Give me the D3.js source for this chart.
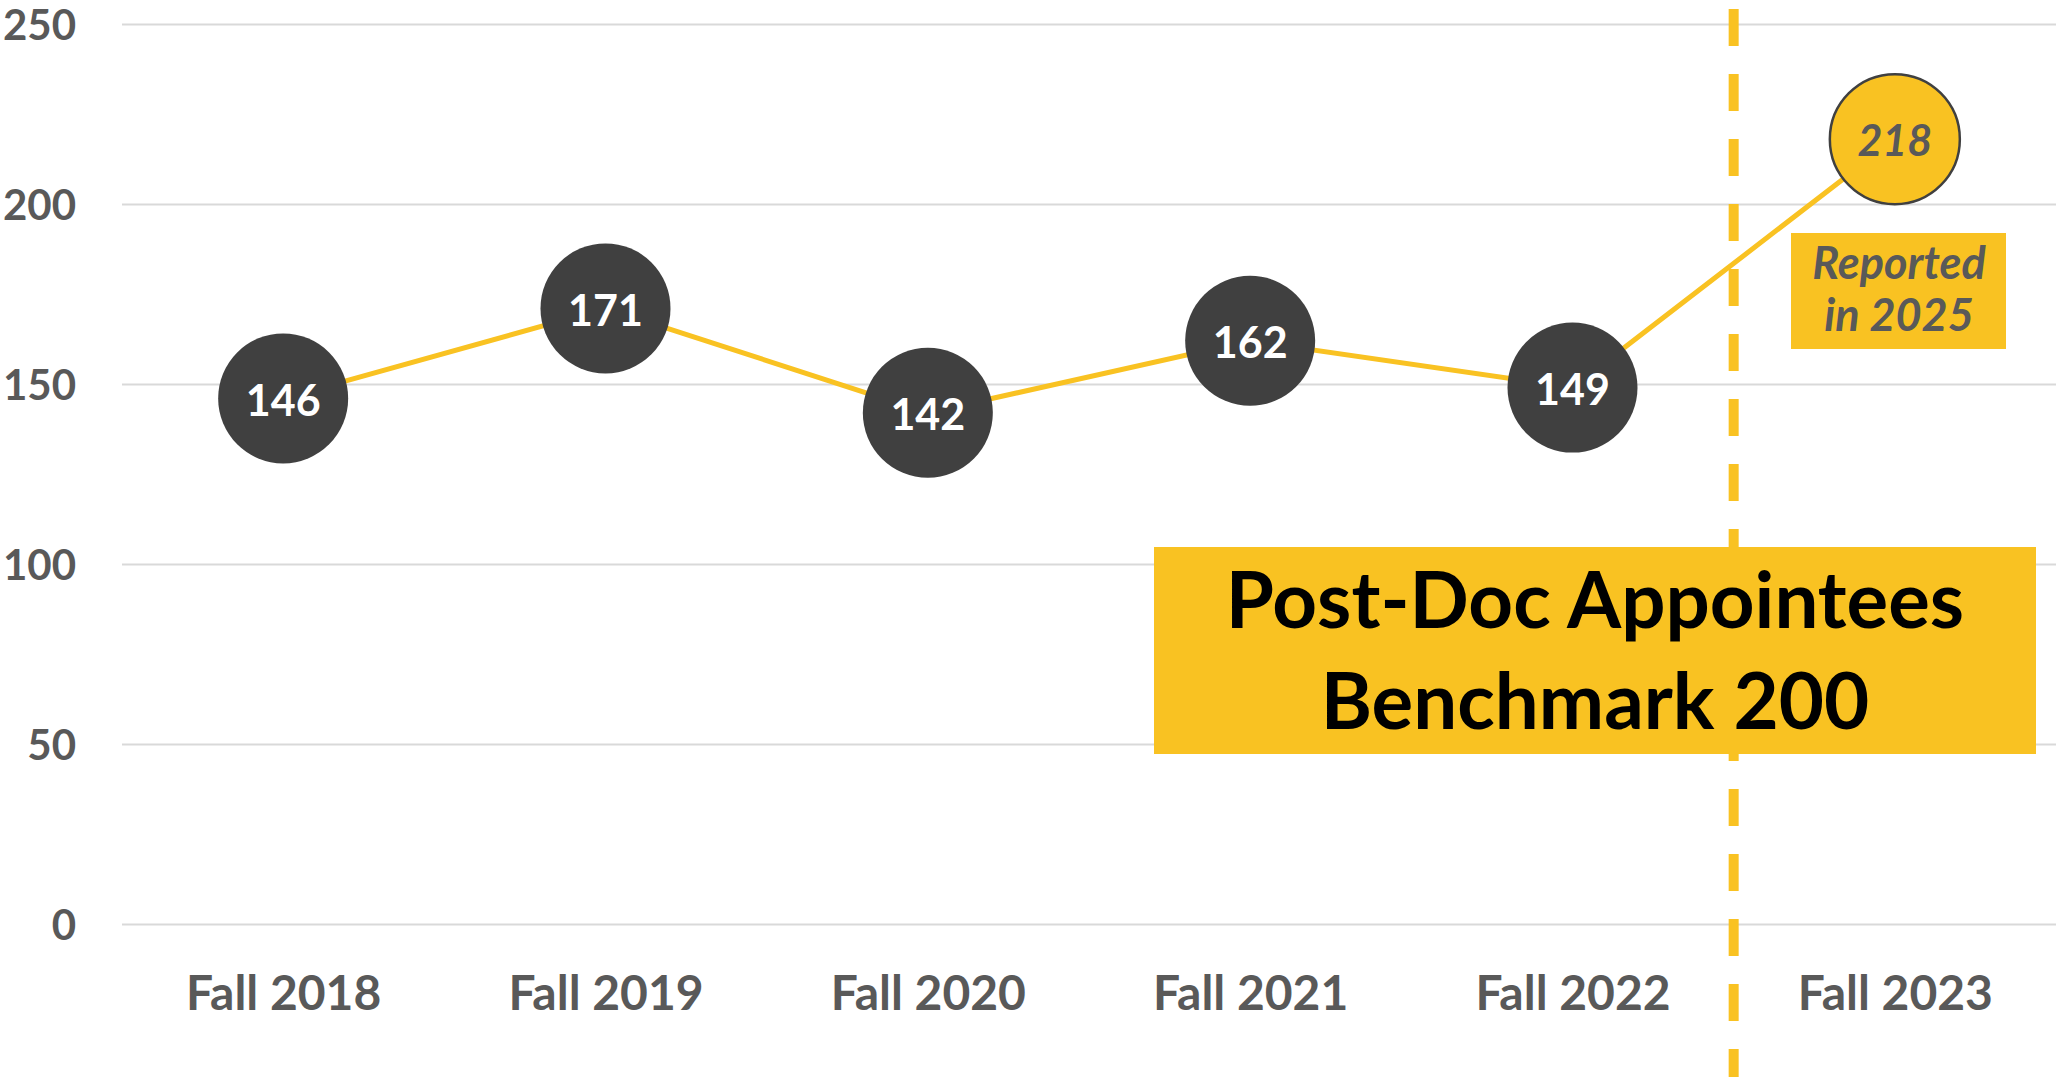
<!DOCTYPE html>
<html>
<head>
<meta charset="utf-8">
<script src="https://cdn.jsdelivr.net/npm/d3@7"></script>
<style>
  html, body { margin: 0; padding: 0; background: #ffffff; }
  svg { display: block; font-family: Lato, "Open Sans", sans-serif; }
</style>
</head>
<body>
<div id="chart"></div>
<script>
// chart data
var categories = ["Fall 2018", "Fall 2019", "Fall 2020", "Fall 2021", "Fall 2022", "Fall 2023"];
var appointees = [146, 171, 142, 162, 149, 218];
var reportedLate = [false, false, false, false, false, true];
var yTicks = [0, 50, 100, 150, 200, 250];
var titleLines = ["Post-Doc Appointees", "Benchmark 200"];
var noteLines = ["Reported", "in 2025"];

var svgWidth = 2056;
var svgHeight = 1077;

var margin = { top: 24, right: 0, bottom: 153, left: 122 };
var width = svgWidth - margin.left - margin.right;
var height = svgHeight - margin.top - margin.bottom;

var yellow = "#F9C222";
var dark = "#404040";
var gray = "#595959";

var svg = d3.select("#chart").append("svg")
  .attr("width", svgWidth)
  .attr("height", svgHeight);

var chartGroup = svg.append("g")
  .attr("transform", `translate(${margin.left}, ${margin.top})`);

var xScale = d3.scalePoint()
  .domain(categories)
  .range([0, width])
  .padding(0.5);

var yScale = d3.scaleLinear()
  .domain([0, 250])
  .range([height, 0]);

var data = categories.map(function(c, i) {
  return { cat: c, value: appointees[i], late: reportedLate[i] };
});

// gridlines + y labels
var yAxis = chartGroup.append("g")
  .call(d3.axisLeft(yScale).tickValues(yTicks).tickSize(-width).tickPadding(46));
yAxis.select(".domain").remove();
yAxis.selectAll(".tick line")
  .attr("stroke", "#D9D9D9")
  .attr("stroke-width", 2);
yAxis.selectAll(".tick text")
  .attr("fill", gray)
  .attr("dy", "0.38em")
  .style("font-size", "42px")
  .style("font-weight", "bold")
  .style("font-family", "Lato, sans-serif");

// x labels
var xAxis = chartGroup.append("g")
  .attr("transform", `translate(0, ${height})`)
  .call(d3.axisBottom(xScale).tickSize(0));
xAxis.select(".domain").remove();
xAxis.selectAll(".tick text")
  .attr("fill", gray)
  .attr("y", 86)
  .attr("dy", null)
  .style("font-size", "48px")
  .style("font-weight", "bold")
  .style("font-family", "Lato, sans-serif");

// dashed divider between reported years and the late one
var dividerX = (xScale(categories[4]) + xScale(categories[5])) / 2;
svg.append("line")
  .attr("x1", margin.left + dividerX)
  .attr("x2", margin.left + dividerX)
  .attr("y1", 9)
  .attr("y2", svgHeight)
  .attr("stroke", yellow)
  .attr("stroke-width", 10)
  .attr("stroke-dasharray", "37,28");

// line
var line = d3.line()
  .x(d => xScale(d.cat))
  .y(d => yScale(d.value));

chartGroup.append("path")
  .datum(data)
  .attr("d", line)
  .attr("fill", "none")
  .attr("stroke", yellow)
  .attr("stroke-width", 5);

// markers
chartGroup.selectAll("circle.marker")
  .data(data)
  .enter()
  .append("circle")
  .attr("class", "marker")
  .attr("cx", d => xScale(d.cat))
  .attr("cy", d => yScale(d.value))
  .attr("r", 65)
  .attr("fill", d => d.late ? yellow : dark)
  .attr("stroke", d => d.late ? dark : "none")
  .attr("stroke-width", 2.5);

chartGroup.selectAll("text.value")
  .data(data)
  .enter()
  .append("text")
  .attr("class", "value")
  .attr("x", d => xScale(d.cat))
  .attr("y", d => yScale(d.value))
  .attr("dy", "0.4em")
  .attr("text-anchor", "middle")
  .attr("fill", d => d.late ? gray : "#ffffff")
  .style("font-size", "43px")
  .style("font-weight", "bold")
  .style("font-style", d => d.late ? "italic" : "normal")
  .text(d => d.value);

// "Reported in 2025" note
svg.append("rect")
  .attr("x", 1791)
  .attr("y", 233)
  .attr("width", 215)
  .attr("height", 116)
  .attr("fill", yellow);

svg.selectAll("text.note")
  .data(noteLines)
  .enter()
  .append("text")
  .attr("class", "note")
  .attr("x", 1899)
  .attr("y", (d, i) => 279 + i * 52)
  .attr("text-anchor", "middle")
  .attr("fill", gray)
  .style("font-size", "45px")
  .style("font-weight", "bold")
  .style("font-style", "italic")
  .text(d => d);

// title box
svg.append("rect")
  .attr("x", 1154)
  .attr("y", 547)
  .attr("width", 882)
  .attr("height", 207)
  .attr("fill", yellow);

svg.selectAll("text.title")
  .data(titleLines)
  .enter()
  .append("text")
  .attr("class", "title")
  .attr("x", 1595)
  .attr("y", (d, i) => 628 + i * 101)
  .attr("text-anchor", "middle")
  .attr("fill", "#000000")
  .style("font-size", "78px")
  .style("font-weight", "bold")
  .text(d => d);
</script>
</body>
</html>
